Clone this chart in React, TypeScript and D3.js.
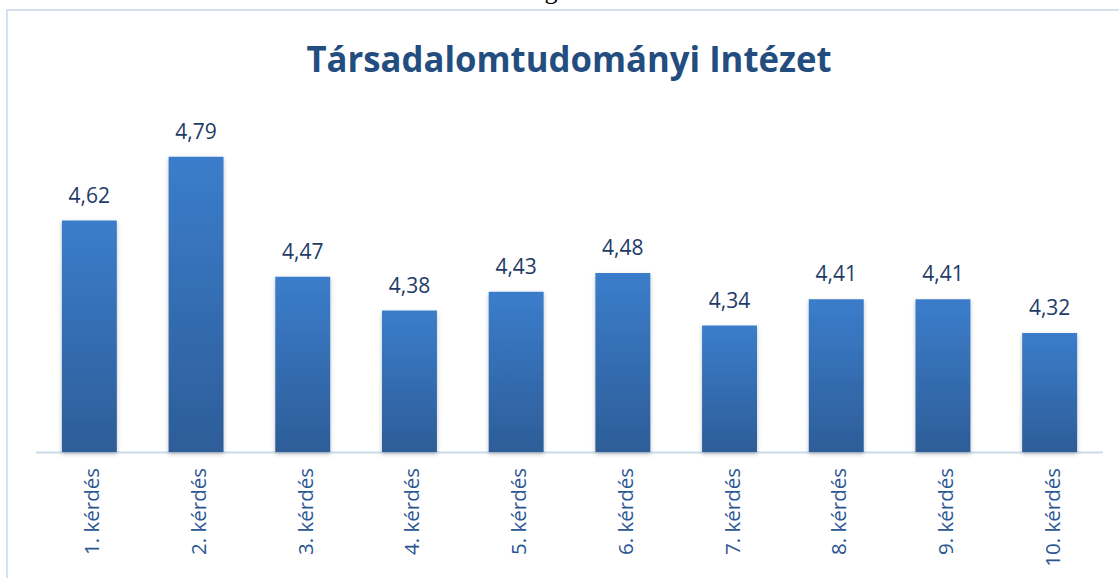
import React from "react";
import * as d3 from "d3";

const categories = ["1. kérdés", "2. kérdés", "3. kérdés", "4. kérdés", "5. kérdés", "6. kérdés", "7. kérdés", "8. kérdés", "9. kérdés", "10. kérdés"];
const values = [4.62, 4.79, 4.47, 4.38, 4.43, 4.48, 4.34, 4.41, 4.41, 4.32];
const title = "Társadalomtudományi Intézet";

const W = 1119;
const H = 578;
const left = 36;
const right = 1103;
const baseline = 452;

export default function App() {
  const x = d3.scaleBand<string>().domain(categories).range([left, right]).paddingInner(0.485).paddingOuter(0.2425);
  const y = d3.scaleLinear().domain([4, 5]).range([baseline + 1, baseline + 1 - 375]);
  const fmt = (v: number) => v.toFixed(2).replace(".", ",");
  const font = "'Open Sans', sans-serif";
  return (
    <svg width={W} height={H} style={{ position: "absolute", left: 0, top: 0, background: "#fff" }}>
      <defs>
        <linearGradient id="barGrad" x1="0" y1="0" x2="0" y2="1">
          <stop offset="0%" stopColor="#3B7DCB" />
          <stop offset="100%" stopColor="#2D5D98" />
        </linearGradient>
        <filter id="shadow" x="-20%" y="-10%" width="140%" height="120%">
          <feDropShadow dx="0" dy="2" stdDeviation="2" floodColor="#000" floodOpacity="0.25" />
        </filter>
      </defs>
      <text x={551} y={-1} fontFamily="'Liberation Serif', serif" fontSize={26} fill="#000" textAnchor="middle">g</text>
      <rect x={7} y={10} width={W + 20} height={H + 20} fill="none" stroke="#D3E1F1" strokeWidth={2} />
      <text x={569} y={72} textAnchor="middle" fontFamily={font} fontWeight={700} fontSize={35} fill="#234D7E" textLength={525} lengthAdjust="spacingAndGlyphs">{title}</text>
      <line x1={left} x2={right} y1={baseline + 0.5} y2={baseline + 0.5} stroke="#CADAEE" strokeWidth={2} />
      {categories.map((c, i) => {
        const bx = x(c)!;
        const bw = x.bandwidth();
        const by = y(values[i]);
        const cx = bx + bw / 2;
        return (
          <g key={c}>
            <rect x={bx} y={by} width={bw} height={baseline - by} fill="url(#barGrad)" filter="url(#shadow)" />
            <text x={cx} y={by - 18} textAnchor="middle" fontFamily={font} fontSize={21} fill="#1F3B66">{fmt(values[i])}</text>
            <text transform={`translate(${cx + 2},${baseline + 16}) rotate(-90)`} textAnchor="end" dominantBaseline="central" fontFamily={font} fontSize={20.5} fill="#2A5592">{c}</text>
          </g>
        );
      })}
    </svg>
  );
}
